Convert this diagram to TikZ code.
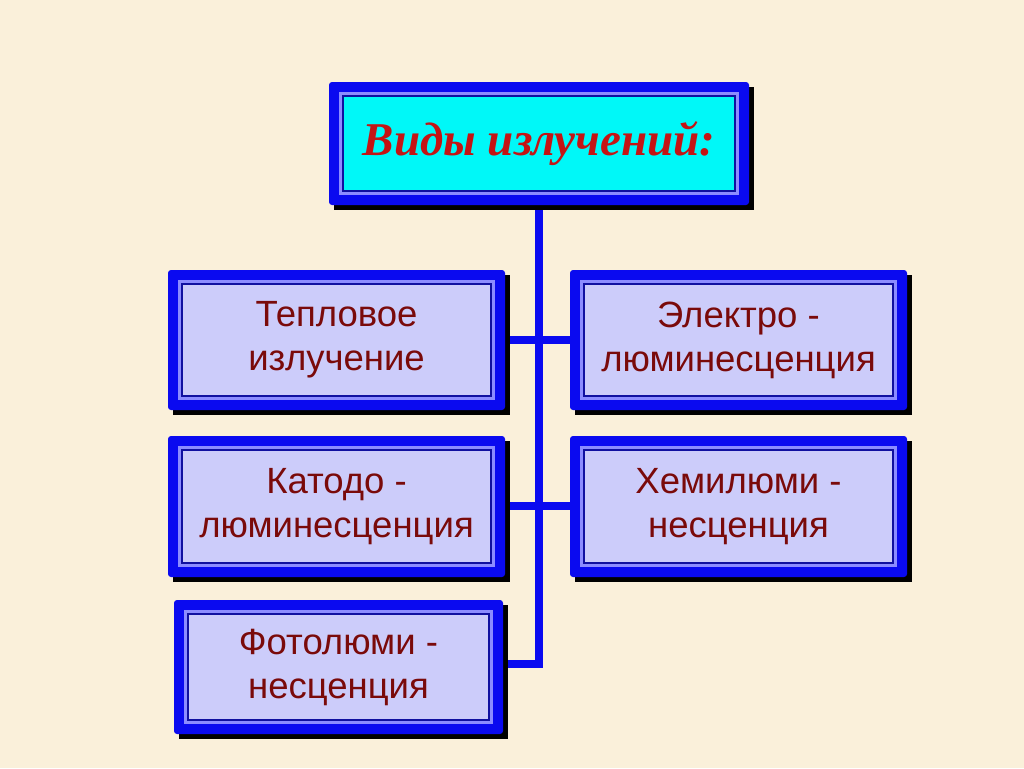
\documentclass[tikz,border=0pt]{standalone}
\usepackage{fontspec}
\setmainfont{Liberation Sans}
\newfontfamily\titlefont{Liberation Serif}
\usetikzlibrary{calc}
\definecolor{bg}{HTML}{FAF0DA}
\definecolor{frameblue}{HTML}{0A0AF0}
\definecolor{lav}{HTML}{CCCCFA}
\definecolor{lightband}{HTML}{8C8CFF}
\definecolor{navyline}{HTML}{1010A0}
\definecolor{cyanfill}{HTML}{00F8F8}
\definecolor{txtred}{HTML}{7A0A0A}
\definecolor{titlered}{HTML}{C41414}
\tikzset{
  conn/.style={draw=frameblue, line width=8pt},
  lbl/.style={font=\fontsize{36.5}{44}\selectfont, text=txtred, align=center},
}
% \mybox{name}{x1}{y1}{x2}{y2}{fill}{text}{textstyle}
\newcommand{\mybox}[8]{%
  \fill[black] (#2+5,#3+5) rectangle (#4+5,#5+5);
  \fill[frameblue, rounded corners=3pt] (#2,#3) rectangle (#4,#5);
  \fill[lightband] (#2+10,#3+10) rectangle (#4-10,#5-10);
  \filldraw[fill=#6, draw=navyline, line width=1.5pt] (#2+14,#3+14) rectangle (#4-14,#5-14);
  \node[#8, inner sep=0pt, minimum width=#4-#2, minimum height=#5-#3] (#1) at ({(#2+#4)/2},{(#3+#5)/2}) {#7};
}
\begin{document}
\begin{tikzpicture}[x=1pt,y=-1pt]
\useasboundingbox (0,0) rectangle (1024,768);
\fill[bg] (0,0) rectangle (1024,768);
% connectors
\coordinate (title-s) at (539,205);
\coordinate (trunkend) at (539,667);
\draw[conn] (title-s) -- (trunkend);
\draw[conn] (505,340) -- (570,340);
\draw[conn] (505,506) -- (570,506);
\draw[conn] (503,664) -- (543,664);
% boxes
\mybox{title}{329}{82}{749}{205}{cyanfill}{\titlefont\bfseries\itshape\fontsize{47}{56}\selectfont Виды излучений:}{text=titlered}
\mybox{teplo}{168}{270}{505}{410}{lav}{Тепловое\\излучение}{lbl}
\mybox{elektro}{570}{270}{907}{410}{lav}{Электро -\\люминесценция}{lbl}
\mybox{katodo}{168}{436}{505}{577}{lav}{Катодо -\\люминесценция}{lbl}
\mybox{hemi}{570}{436}{907}{577}{lav}{Хемилюми -\\несценция}{lbl}
\mybox{foto}{174}{600}{503}{734}{lav}{Фотолюми -\\несценция}{lbl}
\end{tikzpicture}
\end{document}
